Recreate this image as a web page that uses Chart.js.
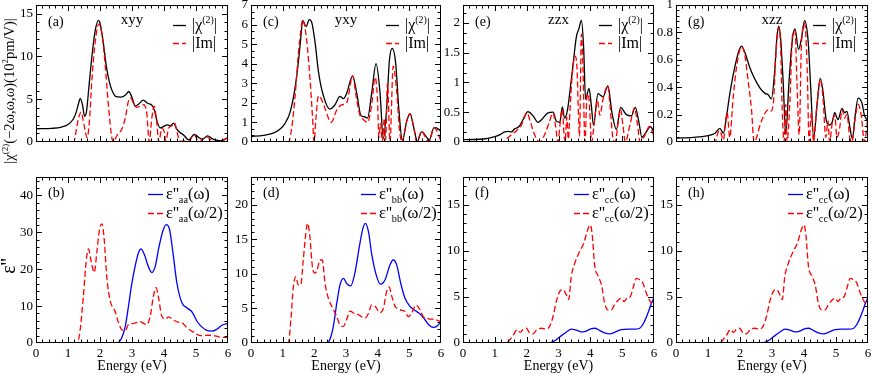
<!DOCTYPE html>
<html><head><meta charset="utf-8">
<script src="https://cdn.jsdelivr.net/npm/chart.js@4/dist/chart.umd.min.js"></script>
<style>
html,body{margin:0;padding:0;background:#fff;}
#wrap{position:relative;width:872px;height:375px;overflow:hidden;background:#fff;}
#wrap canvas{position:absolute;}
</style></head><body><div id="wrap"></div>
<script>
// ---- (a) xyy ----
const aChiE = [0,0.5,0.8,1.0,1.15,1.25,1.33,1.38,1.45,1.52,1.58,1.65,1.75,1.85,1.95,2.0,2.1,2.2,2.3,2.4,2.5,2.65,2.8,2.9,3.0,3.1,3.2,3.35,3.5,3.62,3.7,3.78,3.88,3.98,4.1,4.2,4.3,4.4,4.5,4.62,4.77,4.95,5.1,5.2,5.36,5.5,5.6,5.76,5.9,6.0];
const aChiV = [1.55,1.6,1.75,2.05,2.6,3.4,4.5,5.1,4.4,3.0,3.6,6.3,10.1,13.0,14.2,13.9,11.7,8.8,6.9,5.8,5.3,5.25,5.5,5.9,5.2,4.2,4.4,4.9,4.5,4.3,3.7,2.45,1.65,1.8,2.0,1.9,2.2,1.5,1.1,0.8,0.25,0.9,0.5,0.3,0.72,0.4,0.24,0.14,0.3,0.55];
const aImE = [0,1.18,1.25,1.33,1.41,1.5,1.6,1.68,1.74,1.85,1.97,2.06,2.16,2.26,2.37,2.42,2.52,2.68,2.79,2.89,2.96,3.05,3.15,3.26,3.36,3.46,3.54,3.62,3.69,3.76,3.84,3.93,4.0,4.06,4.14,4.25,4.33,4.42,4.5,4.66,4.77,4.86,4.95,5.09,5.22,5.34,5.45,5.55,5.76,5.9,6.0];
const aImV = [0,0,1.2,2.8,3.5,2.0,0.5,3.0,6.9,11.7,13.8,12.6,9.1,4.4,0.5,0,0.7,1.5,2.8,4.8,5.15,4.5,4.05,4.2,4.35,3.4,0,2.8,4.2,2.8,0,1.58,1.3,0.1,1.6,1.9,2.2,1.0,0.1,0.1,0,0.5,0.8,0,0.4,0.6,0.3,0,0.05,0.3,0.5];
// ---- (c) yxy ----
const cChiE = [0,0.39,0.7,0.92,1.07,1.23,1.39,1.49,1.57,1.63,1.74,1.84,1.92,2.02,2.13,2.28,2.49,2.65,2.81,2.92,3.02,3.21,3.34,3.47,3.58,3.68,3.81,3.95,4.07,4.18,4.28,4.37,4.46,4.57,4.67,4.78,4.92,5.02,5.15,5.25,5.39,5.55,5.62,5.78,5.92,6.0];
const cChiV = [0.28,0.34,0.45,0.66,0.94,1.5,2.75,4.0,5.27,6.2,5.9,6.25,6.1,5.13,3.6,2.4,1.68,1.9,2.33,2.22,2.48,3.38,2.48,1.36,1.29,1.22,2.48,4.0,2.6,0.17,1.64,4.15,4.78,4.0,1.64,0.07,1.08,1.45,0.66,0.03,0.52,0.24,0.07,0.73,0.66,0.52];
const cImE = [0,1.18,1.28,1.39,1.49,1.58,1.63,1.71,1.78,1.86,1.94,1.99,2.05,2.13,2.2,2.34,2.53,2.71,2.86,3.02,3.21,3.32,3.44,3.55,3.68,3.81,3.92,3.99,4.04,4.09,4.15,4.21,4.25,4.31,4.39,4.49,4.6,4.68,4.76,4.92,5.02,5.15,5.23,5.39,5.55,5.62,5.78,5.92,6.0];
const cImV = [0,0,0.66,2.3,4.4,5.8,6.25,5.8,4.85,3.3,1.36,0,1.2,2.36,2.27,1.7,1.0,1.64,1.9,2.0,3.38,2.33,1.36,1.15,1.0,1.9,3.3,2.33,0.24,0.94,0,1.2,0.1,3.0,0,3.87,2.6,0.8,0,1.08,1.45,0.66,0,0.55,0.1,0,0.73,0.38,0];
// ---- (e) zzx ----
const eChiE = [0,0.63,0.94,1.15,1.31,1.41,1.52,1.62,1.76,1.88,2.04,2.2,2.36,2.51,2.67,2.83,2.93,3.04,3.12,3.19,3.28,3.37,3.46,3.56,3.64,3.72,3.79,3.85,3.96,4.03,4.1,4.24,4.4,4.55,4.68,4.82,4.95,5.13,5.29,5.41,5.52,5.62,5.76,5.88,6.0];
const eChiV = [0.04,0.05,0.08,0.12,0.17,0.18,0.17,0.22,0.26,0.37,0.51,0.44,0.33,0.4,0.49,0.5,0.35,0.33,0.59,0.4,0.53,0.9,1.31,1.76,1.9,2.04,1.58,0.72,0.9,0.62,0.28,0.81,0.76,0.94,0.49,0.21,0.58,0.46,0.44,0.58,0.35,0.08,0.17,0.26,0.17];
const eImE = [0,1.26,1.36,1.52,1.68,1.83,2.01,2.11,2.25,2.41,2.6,2.72,2.83,2.91,2.98,3.06,3.12,3.17,3.21,3.26,3.31,3.36,3.43,3.52,3.58,3.63,3.66,3.72,3.77,3.83,3.9,3.96,4.04,4.12,4.22,4.3,4.4,4.55,4.62,4.7,4.78,4.88,4.95,5.02,5.1,5.25,5.39,5.48,5.56,5.7,5.86,6.0];
const eImV = [0,0,0.05,0.12,0.19,0.28,0.49,0.35,0.12,0,0.17,0.35,0.49,0.26,0,0.35,0.55,0.15,0,0.42,0.05,0.53,1.12,1.44,1.26,0.4,0.1,1.81,1.22,0,0.81,0.72,0,0.3,0.7,0.45,0.72,0.94,0.6,0.1,0,0.35,0.55,0.3,0,0.3,0.57,0.3,0,0.1,0.26,0.1];
// ---- (g) xzz ----
const gChiE = [0,0.54,0.96,1.22,1.37,1.48,1.58,1.68,1.84,1.98,2.05,2.15,2.29,2.41,2.62,2.78,2.88,2.98,3.09,3.15,3.21,3.27,3.35,3.43,3.53,3.64,3.72,3.83,3.92,4.02,4.13,4.21,4.3,4.41,4.51,4.59,4.7,4.8,4.88,4.96,5.06,5.19,5.27,5.34,5.43,5.51,5.6,5.69,5.81,5.89,6.0];
const gChiV = [0.028,0.034,0.044,0.064,0.1,0.064,0.19,0.35,0.55,0.675,0.7,0.655,0.555,0.485,0.395,0.355,0.345,0.315,0.535,0.755,0.845,0.755,0.435,0.054,0.435,0.755,0.825,0.675,0.755,0.885,0.735,0.395,0.034,0.275,0.465,0.375,0.154,0.124,0.144,0.214,0.164,0.245,0.214,0.224,0.114,0.024,0.194,0.32,0.285,0.194,0.154];
const gImE = [0,1.22,1.32,1.37,1.48,1.54,1.6,1.68,1.79,1.91,2.05,2.15,2.26,2.36,2.44,2.67,2.88,2.95,3.04,3.12,3.21,3.27,3.32,3.38,3.43,3.47,3.56,3.64,3.72,3.78,3.85,3.92,4.02,4.1,4.16,4.23,4.3,4.39,4.51,4.59,4.68,4.75,4.8,4.88,4.96,5.03,5.11,5.19,5.27,5.34,5.43,5.5,5.6,5.69,5.79,5.89,6.0];
const gImV = [0,0,0.074,0.084,0.014,0.12,0.214,0.034,0.335,0.575,0.695,0.635,0.435,0.235,0,0.154,0.235,0.224,0.275,0.635,0.835,0.695,0.235,0,0.275,0,0.3,0.775,0.815,0.435,0.054,0.715,0.865,0.535,0,0.214,0,0.235,0.455,0.335,0.034,0.154,0,0.134,0.194,0.034,0.094,0.235,0.174,0.204,0.034,0,0.174,0.275,0.194,0,0.194];
// ---- (b) eps aa ----
const bOmE = [0,2.42,2.58,2.68,2.79,2.89,2.99,3.1,3.2,3.28,3.38,3.52,3.62,3.73,3.83,3.97,4.07,4.17,4.28,4.4,4.56,4.72,4.88,5.03,5.19,5.34,5.5,5.66,5.81,6.0];
const bOmV = [0,0,0.2,1.4,4.5,10,15.9,20.9,24.4,25.5,24.1,20.5,19.1,20.9,25.5,30.5,32.1,30.9,24.5,16.4,10.9,9.5,8.4,5.9,4.3,3.4,3.2,3.8,4.8,5.3];
const bHalfE = [0,1.29,1.38,1.48,1.57,1.64,1.72,1.82,1.9,1.98,2.06,2.13,2.21,2.32,2.47,2.58,2.68,2.79,2.89,3.05,3.26,3.36,3.46,3.57,3.67,3.75,3.83,3.93,4.06,4.14,4.3,4.46,4.56,4.72,4.93,5.13,5.45,5.76,6.0];
const bHalfV = [0,0,3.6,12.7,22.3,25.5,22.3,19.1,24.5,30.5,32.3,28.2,18.2,11.4,8.6,5.5,3.6,3.4,5.0,5.3,5.8,5.3,5.0,7.3,12.7,15,12.3,7.3,6.5,7.1,6.2,5.6,5.5,4.1,2.9,2.0,2.1,1.6,1.5];
// ---- (d) eps bb ----
const dOmE = [0,2.39,2.49,2.6,2.71,2.81,2.92,3.02,3.15,3.28,3.42,3.53,3.61,3.71,3.81,3.97,4.09,4.23,4.39,4.49,4.6,4.73,4.86,5.02,5.18,5.34,5.49,5.62,5.76,5.86,6.0];
const dOmV = [0,0,0.5,2.4,5.8,8.4,9.35,8.6,8.25,10.1,13.9,16.5,17.3,16.1,12.9,9.6,8.5,9.1,11.3,12.0,11.3,8.6,6.5,5.3,4.7,4.2,3.4,2.6,2.25,2.4,3.1];
const dHalfE = [0,1.18,1.26,1.34,1.42,1.49,1.57,1.65,1.73,1.79,1.86,1.94,2.02,2.09,2.18,2.25,2.34,2.44,2.55,2.71,2.81,2.92,3.02,3.13,3.25,3.39,3.49,3.6,3.71,3.81,3.92,4.07,4.18,4.28,4.36,4.45,4.55,4.65,4.76,4.86,4.97,5.07,5.21,5.34,5.44,5.6,5.81,6.0];
const dHalfV = [0,0,3.4,8.2,9.6,8.4,8.4,12,15.8,17.3,15.3,11,10.1,10.6,12,12,8.6,6.5,5.3,3.8,2.6,2.4,3.4,4.6,4.3,4.1,3.8,3.6,4.3,5.5,5.3,4.4,5.0,7.4,8.1,6.7,5.3,5.0,4.7,4.6,3.8,4.3,5.5,4.8,3.8,3.5,3.4,3.1];
// ---- (f) and (h) eps cc ----
const fOmE = [0,2.62,2.77,2.93,3.09,3.25,3.4,3.56,3.72,3.87,4.03,4.14,4.29,4.45,4.61,4.76,4.97,5.18,5.39,5.55,5.68,5.81,5.92,6.0];
const fOmV = [0,0,0.07,0.36,0.8,1.2,1.5,1.4,1.2,1.3,1.55,1.6,1.37,1.1,1.0,1.15,1.45,1.5,1.5,1.6,2.2,3.25,4.3,4.9];
const fHalfE = [0,1.36,1.47,1.57,1.7,1.8,1.88,1.99,2.09,2.2,2.32,2.46,2.6,2.72,2.83,2.93,3.04,3.14,3.25,3.32,3.4,3.51,3.66,3.79,3.93,4.0,4.06,4.14,4.24,4.35,4.45,4.55,4.66,4.76,4.89,4.97,5.06,5.15,5.26,5.34,5.45,5.55,5.65,5.76,5.88,6.0];
const fHalfV = [0,0,0.36,0.8,1.45,1.15,1.45,1.6,1.1,1.0,1.45,1.6,1.5,1.8,2.9,4.5,5.6,5.8,5.2,4.7,7.2,8.65,9.9,10.8,12.4,12.8,11.7,8.3,7.3,6.3,4.3,3.6,3.6,4.15,4.7,4.85,4.5,4.85,5.05,5.95,7.0,6.85,6.5,5.4,4.5,3.9];
const hOmE = fOmE, hOmV = fOmV, hHalfE = fHalfE, hHalfV = fHalfV;

const xMajorTicks = [0,1,2,3,4,5,6];

// ---- layout ----
const FONT = "'Liberation Serif','Times New Roman',serif";
const COLS = [{l:36,r:228},{l:251,r:441},{l:463,r:654},{l:676,r:868}];
const ROWS = [{t:5,b:172},{t:177,b:343}];
const M = 12, YW = 34, XH = 30;

const STYLE = {
  chi:{color:'#000000', dash:[]},
  im:{color:'#ff0000', dash:[6,3]},
  om:{color:'#0000ff', dash:[]},
  half:{color:'#ff0000', dash:[6,3]}
};

const panels = [
  {col:0,row:0,label:'(a)',title:'xyy',ymax:16,ymaj:5,ymin:1,sets:[[aImE,aImV,'im'],[aChiE,aChiV,'chi']],ytitle:'chi'},
  {col:1,row:0,label:'(c)',title:'yxy',ymax:7,ymaj:1,ymin:1/3,sets:[[cImE,cImV,'im'],[cChiE,cChiV,'chi']]},
  {col:2,row:0,label:'(e)',title:'zzx',ymax:2.3,ymaj:0.5,ymin:0.5/3,sets:[[eImE,eImV,'im'],[eChiE,eChiV,'chi']]},
  {col:3,row:0,label:'(g)',title:'xzz',ymax:1,ymaj:0.2,ymin:0.04,sets:[[gImE,gImV,'im'],[gChiE,gChiV,'chi']]},
  {col:0,row:1,label:'(b)',sub:'aa',ymax:45,ymaj:10,ymin:2,sets:[[bHalfE,bHalfV,'half'],[bOmE,bOmV,'om']],ytitle:'eps'},
  {col:1,row:1,label:'(d)',sub:'bb',ymax:24,ymaj:5,ymin:1,sets:[[dHalfE,dHalfV,'half'],[dOmE,dOmV,'om']]},
  {col:2,row:1,label:'(f)',sub:'cc',ymax:18,ymaj:5,ymin:1,sets:[[fHalfE,fHalfV,'half'],[fOmE,fOmV,'om']]},
  {col:3,row:1,label:'(h)',sub:'cc',ymax:18,ymaj:5,ymin:1,sets:[[hHalfE,hHalfV,'half'],[hOmE,hOmV,'om']]}
];

function pts(E, V){ return E.map((e,i)=>({x:e, y:V[i]})); }
function fnt(s){ return s + 'px ' + FONT; }
function rich(ctx, parts, x, y, size, align){
  let w = 0;
  parts.forEach(p=>{ ctx.font = fnt(p[1] ? size*0.62 : size); w += ctx.measureText(p[0]).width; });
  let cx = align==='center' ? x - w/2 : (align==='right' ? x - w : x);
  parts.forEach(p=>{
    ctx.font = fnt(p[1] ? size*0.62 : size);
    const dy = p[1]===1 ? -size*0.42 : (p[1]===-1 ? size*0.25 : 0);
    ctx.textAlign = 'left'; ctx.textBaseline = 'alphabetic';
    ctx.fillText(p[0], cx, y + dy);
    cx += ctx.measureText(p[0]).width;
  });
}

function makePlugin(p){
  const C = COLS[p.col], R = ROWS[p.row];
  return {
    id:'frame'+p.label,
    afterDatasetsDraw(chart){
      const ctx = chart.ctx, a = chart.chartArea, xs = chart.scales.x, ys = chart.scales.y;
      ctx.save();
      ctx.strokeStyle = '#000'; ctx.lineWidth = 1; ctx.setLineDash([]);
      ctx.strokeRect(Math.round(a.left)+0.5, Math.round(a.top)+0.5, Math.round(a.right-a.left)-1, Math.round(a.bottom-a.top)-1);
      ctx.beginPath();
      for (let k=1; k<30; k++){
        const px = Math.round(xs.getPixelForValue(k*0.2))+0.5;
        const len = (k%5===0) ? 6 : 3.5;
        ctx.moveTo(px, a.bottom); ctx.lineTo(px, a.bottom-len);
        ctx.moveTo(px, a.top); ctx.lineTo(px, a.top+len);
      }
      const n = Math.floor(p.ymax/p.ymin + 1e-6), per = Math.round(p.ymaj/p.ymin);
      for (let k=1; k<=n; k++){
        const v = k*p.ymin; if (v >= p.ymax - 1e-9) continue;
        const py = Math.round(ys.getPixelForValue(v))+0.5;
        const len = (k%per===0) ? 6 : 3.5;
        ctx.moveTo(a.left, py); ctx.lineTo(a.left+len, py);
        ctx.moveTo(a.right, py); ctx.lineTo(a.right-len, py);
      }
      ctx.stroke();
      ctx.restore();
    },
    afterDraw(chart){
      const ctx = chart.ctx, a = chart.chartArea;
      const X = v => v - C.l + a.left, Y = v => v - R.t + a.top;
      ctx.save();
      ctx.fillStyle = '#000';
      // panel label
      rich(ctx, [[p.label,0]], X(C.l+12), Y(R.t + (p.row===0 ? 21 : 20)), 14, 'left');
      if (p.title) rich(ctx, [[p.title,0]], X((C.l+C.r)/2), Y(R.t+19), 15, 'center');
      // legend
      const rowsY = p.row===0 ? [R.t+20, R.t+38] : [R.t+17, R.t+36];
      const x1 = p.row===0 ? C.r-55 : C.r-80, x2 = p.row===0 ? C.r-42 : C.r-65, tx = p.row===0 ? C.r-36 : C.r-62;
      const sty = p.row===0 ? [STYLE.chi, STYLE.im] : [STYLE.om, STYLE.half];
      const txt = p.row===0
        ? [[['|χ',0],['(2)',1],['|',0]], [['|Im|',0]]]
        : [[['ε\'\'',0],[p.sub,-1],['(ω)',0]], [['ε\'\'',0],[p.sub,-1],['(ω/2)',0]]];
      for (let i=0;i<2;i++){
        ctx.strokeStyle = sty[i].color; ctx.lineWidth = 1.3; ctx.setLineDash(sty[i].dash);
        ctx.beginPath(); ctx.moveTo(X(x1), Y(rowsY[i])+0.5); ctx.lineTo(X(x2), Y(rowsY[i])+0.5); ctx.stroke();
        ctx.setLineDash([]);
        rich(ctx, txt[i], X(tx), Y(rowsY[i]+5), p.row===0 ? 16 : 16.5, 'left');
      }
      // x-axis title
      if (p.row===1) rich(ctx, [['Energy (eV)',0]], X((C.l+C.r)/2), Y(R.b+27), 14, 'center');
      // y-axis titles
      if (p.ytitle==='chi'){
        ctx.save(); ctx.translate(X(14), Y(91)); ctx.rotate(-Math.PI/2);
        rich(ctx, [['|χ',0],['(2)',1],['(−2ω,ω,ω)(10',0],['2',1],['pm/V)|',0]], 0, 0, 14.5, 'center');
        ctx.restore();
      }
      if (p.ytitle==='eps'){
        ctx.save(); ctx.translate(X(15), Y(266)); ctx.rotate(-Math.PI/2);
        rich(ctx, [['ε\'\'',0]], 0, 0, 20, 'center');
        ctx.restore();
      }
      ctx.restore();
    }
  };
}

const wrap = document.getElementById('wrap');
panels.forEach(p=>{
  const C = COLS[p.col], R = ROWS[p.row];
  const cv = document.createElement('canvas');
  const W = M + YW + (C.r - C.l) + M;
  const H = M + (R.b - R.t) + (p.row===1 ? XH : 0) + M;
  cv.width = W; cv.height = H;
  cv.style.left = (C.l - YW - M) + 'px'; cv.style.top = (R.t - M) + 'px';
  cv.style.width = W + 'px'; cv.style.height = H + 'px';
  wrap.appendChild(cv);
  const majors = [];
  for (let v=0; v<=p.ymax+1e-9; v+=p.ymaj) majors.push(Math.round(v*1000)/1000);
  new Chart(cv, {
    type:'scatter',
    data:{datasets: p.sets.map(s=>({
      data: pts(s[0], s[1]), showLine:true, borderColor: STYLE[s[2]].color, backgroundColor: STYLE[s[2]].color,
      borderDash: STYLE[s[2]].dash, borderWidth: 1.3, pointRadius: 0, pointHoverRadius: 0,
      cubicInterpolationMode:'monotone', fill:false
    }))},
    options:{
      responsive:false, animation:false, devicePixelRatio:1, events:[],
      layout:{padding:{left:M, right:M, top:M, bottom:M}},
      plugins:{legend:{display:false}, tooltip:{enabled:false}, title:{display:false}},
      scales:{
        x:{type:'linear', min:0, max:6, display: p.row===1,
           grid:{display:false, drawTicks:false, tickLength:0}, border:{display:false},
           ticks:{color:'#000', font:{family:FONT, size:13}, padding:3, maxRotation:0, autoSkip:false,
                  callback: v => String(v)},
           afterBuildTicks: s => { s.ticks = xMajorTicks.map(v=>({value:v})); },
           afterFit: s => { s.height = XH; s.paddingLeft = 0; s.paddingRight = 0; }},
        y:{type:'linear', min:0, max:p.ymax,
           grid:{display:false, drawTicks:false, tickLength:0}, border:{display:false},
           ticks:{color:'#000', font:{family:FONT, size:13}, padding:3, autoSkip:false,
                  callback: v => String(Math.round(v*100)/100)},
           afterBuildTicks: s => { s.ticks = majors.map(v=>({value:v})); },
           afterFit: s => { s.width = YW; s.paddingTop = 0; s.paddingBottom = 0; }}
      }
    },
    plugins:[makePlugin(p)]
  });
});
</script>
</body></html>
